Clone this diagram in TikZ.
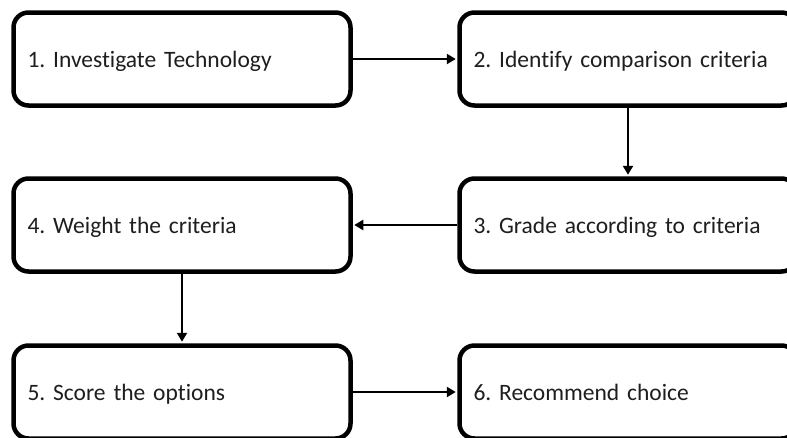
\documentclass[tikz,border=0pt]{standalone}
\usepackage{fontspec}
\setmainfont{Carlito}[Ligatures={NoCommon}]
\usetikzlibrary{arrows.meta}
\definecolor{txt}{RGB}{30,30,30}
\frenchspacing
\tikzset{
  stepbox/.style={draw=black, line width=4.5pt, rounded corners=15pt, fill=white,
    minimum width=337pt, minimum height=93pt, text width=309pt, inner xsep=14pt,
    align=left, text height=17pt, text depth=1pt, text=txt,
    font=\fontsize{23.5}{27}\selectfont},
  flow/.style={line width=2.3pt, -{Triangle[length=9pt,width=10pt]}, shorten >=1.5pt}
}
\begin{document}
\begin{tikzpicture}[x=1pt,y=-1pt]
\useasboundingbox (0,0) rectangle (787,437);
\node[stepbox] (s1) at (182,59)  {1. Investigate Technology};
\node[stepbox] (s2) at (628,59)  {2. Identify comparison criteria};
\node[stepbox] (s3) at (628,225) {3. Grade according to criteria};
\node[stepbox] (s4) at (182,225) {4. Weight the criteria};
\node[stepbox] (s5) at (182,392) {5. Score the options};
\node[stepbox] (s6) at (628,392) {6. Recommend choice};
\draw[flow] (s1.east)  -- (s2.west);
\draw[flow] (s2.south) -- (s3.north);
\draw[flow] (s3.west)  -- (s4.east);
\draw[flow] (s4.south) -- (s5.north);
\draw[flow] (s5.east)  -- (s6.west);
\end{tikzpicture}
\end{document}
